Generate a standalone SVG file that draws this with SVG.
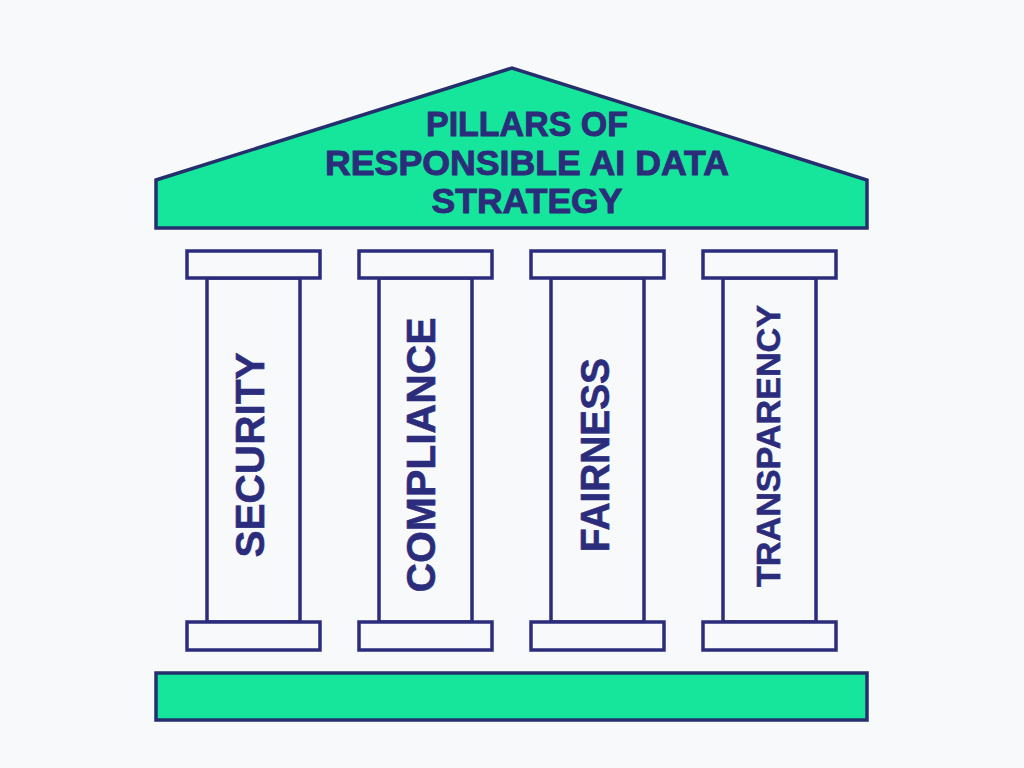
<svg xmlns="http://www.w3.org/2000/svg" width="1024" height="768" viewBox="0 0 1024 768">
<style>
.green{fill:#15e69b;stroke:#262f6e;stroke-width:3.5;stroke-linejoin:miter}
.col{fill:#f8f9fb;stroke:#2b2d7c;stroke-width:3.5}
.title{font-family:"Liberation Sans",Arial,sans-serif;font-weight:700;font-size:35px;fill:#2b2d7a;stroke:#2b2d7a;stroke-width:0.9;text-anchor:middle}
.lbl{font-family:"Liberation Sans",Arial,sans-serif;font-weight:700;font-size:41px;fill:#2b2d7c;stroke:#2b2d7c;stroke-width:0.6;text-anchor:middle}
</style>
<rect width="1024" height="768" fill="#f8f9fa"/>
<g id="roof">
<polygon class="green" points="156,180 512,68 867,180 867,228 156,228"/>
<text class="title" x="527" y="135.5" textLength="202" lengthAdjust="spacingAndGlyphs">PILLARS OF</text>
<text class="title" x="527" y="174.5" textLength="404" lengthAdjust="spacingAndGlyphs">RESPONSIBLE AI DATA</text>
<text class="title" x="527" y="213" textLength="191" lengthAdjust="spacingAndGlyphs">STRATEGY</text>
</g>
<g id="pillar-security">
<rect class="col" x="207" y="278" width="93" height="344"/>
<rect class="col" x="187" y="251" width="133" height="27"/>
<rect class="col" x="187" y="622" width="133" height="28"/>
<text class="lbl" transform="translate(264,455) rotate(-90)" textLength="205" lengthAdjust="spacingAndGlyphs">SECURITY</text>
</g>
<g id="pillar-compliance">
<rect class="col" x="379" y="278" width="93" height="344"/>
<rect class="col" x="359" y="251" width="133" height="27"/>
<rect class="col" x="359" y="622" width="133" height="28"/>
<text class="lbl" transform="translate(435,455) rotate(-90)" textLength="275" lengthAdjust="spacingAndGlyphs">COMPLIANCE</text>
</g>
<g id="pillar-fairness">
<rect class="col" x="551" y="278" width="93" height="344"/>
<rect class="col" x="531" y="251" width="133" height="27"/>
<rect class="col" x="531" y="622" width="133" height="28"/>
<text class="lbl" transform="translate(609,455) rotate(-90)" textLength="194" lengthAdjust="spacingAndGlyphs">FAIRNESS</text>
</g>
<g id="pillar-transparency">
<rect class="col" x="723" y="278" width="93" height="344"/>
<rect class="col" x="703" y="251" width="133" height="27"/>
<rect class="col" x="703" y="622" width="133" height="28"/>
<text class="lbl" style="font-size:34px" transform="translate(780,446) rotate(-90)" textLength="282" lengthAdjust="spacingAndGlyphs">TRANSPARENCY</text>
</g>
<g id="foundation">
<rect class="green" x="156" y="673" width="711" height="47"/>
</g>
<g id="connectors"></g>
</svg>
